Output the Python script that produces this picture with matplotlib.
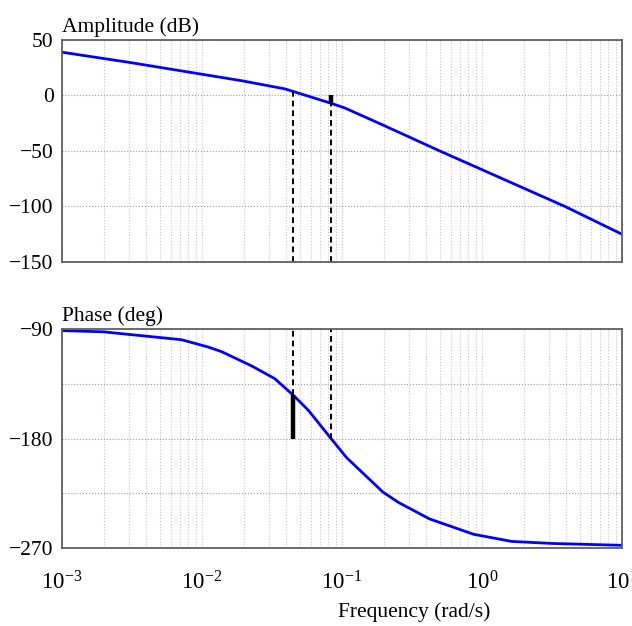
import numpy as np
import matplotlib
matplotlib.use("Agg")
import matplotlib.pyplot as plt
from matplotlib.ticker import LogLocator, FixedLocator, NullFormatter

plt.rcParams.update({
    "font.family": "serif",
    "font.serif": ["Liberation Serif", "DejaVu Serif"],
    "mathtext.fontset": "stix",
    "font.size": 15.5,
})

# --- data ---
amp_freq = [0.001, 0.00314, 0.0192, 0.039, 0.0444, 0.0835, 0.105, 0.196, 0.5, 3.92, 10]
amp_db = [39, 29.5, 13.3, 6.0, 3.8, -7.0, -11.3, -26.6, -50, -100, -125]

ph_freq = [0.001, 0.00197, 0.00714, 0.011, 0.0138, 0.0226, 0.033, 0.0444, 0.0575,
           0.0835, 0.108, 0.196, 0.252, 0.42, 0.87, 1.63, 3.22, 10]
ph_deg = [-91.3, -92.3, -98.8, -104.7, -108.6, -120.3, -130.7, -143.9, -156.8,
          -180, -195.8, -224, -232.4, -246, -258.7, -264.6, -266.3, -267.8]

# margin markers
wc_freq = 0.0444     # gain crossover (phase margin)
wc_amp = 3.8
wc_phase = -143.9
wp_freq = 0.0835     # phase crossover (gain margin)
wp_amp = -7.0

amp_ticks = [50, 0, -50, -100, -150]
ph_ticks = [-90, -180, -270]
ph_minor = [-135, -225]

fig = plt.figure(figsize=(6.32, 6.26), dpi=100)
ax1 = fig.add_axes([0.0981, 0.5815, 0.886, 0.3546])
ax2 = fig.add_axes([0.0981, 0.1246, 0.886, 0.3498])

blue = "#0000ff"
for ax in (ax1, ax2):
    ax.set_xscale("log")
    ax.set_xlim(1e-3, 10)
    ax.xaxis.set_major_locator(LogLocator(base=10, numticks=10))
    ax.xaxis.set_minor_locator(LogLocator(base=10, subs=np.arange(2, 10), numticks=20))
    ax.xaxis.set_minor_formatter(NullFormatter())
    ax.grid(which="both", axis="x", ls=":", color="#c4c4c4", lw=0.8)
    ax.grid(which="both", axis="y", ls=":", color="#9a9a9a", lw=0.8)
    ax.tick_params(which="both", length=0, pad=6)
    for s in ax.spines.values():
        s.set_color("#606060")
        s.set_linewidth(1.3)
    ax.set_axisbelow(True)

# amplitude
ax1.plot(amp_freq, amp_db, color=blue, lw=2.0)
ax1.set_ylim(-150, 50)
ax1.set_yticks(amp_ticks)
ax1.set_yticklabels([str(t).replace("-", "\u2212") for t in amp_ticks])
ax1.tick_params(axis="x", labelbottom=False)
ax1.vlines(wc_freq, -150, wc_amp, colors="black", linestyles=(0, (3, 2)), lw=1.4)
ax1.vlines(wp_freq, -150, wp_amp, colors="black", linestyles=(0, (3, 2)), lw=1.4)
ax1.vlines(wp_freq, wp_amp, 0, colors="black", lw=3.2)
ax1.set_title("Amplitude (dB)", loc="left", fontsize=15.5, pad=6)

# phase
ax2.plot(ph_freq, ph_deg, color=blue, lw=2.0)
ax2.set_ylim(-270, -90)
ax2.set_yticks(ph_ticks)
ax2.set_yticklabels([str(t).replace("-", "\u2212") for t in ph_ticks])
ax2.yaxis.set_minor_locator(FixedLocator(ph_minor))
ax2.vlines(wc_freq, wc_phase, -90, colors="black", linestyles=(0, (3, 2)), lw=1.4)
ax2.vlines(wp_freq, -180, -90, colors="black", linestyles=(0, (3, 2)), lw=1.4)
ax2.vlines(wc_freq, -180, wc_phase, colors="black", lw=3.2)
ax2.set_title("Phase (deg)", loc="left", fontsize=15.5, pad=6)
ax2.tick_params(axis="x", pad=17, labelsize=16.5)
ax2.set_xlabel("Frequency (rad/s)", fontsize=15.5)
ax2.xaxis.set_label_coords(0.629, -0.25)

fig.savefig("out.png", dpi=100)
